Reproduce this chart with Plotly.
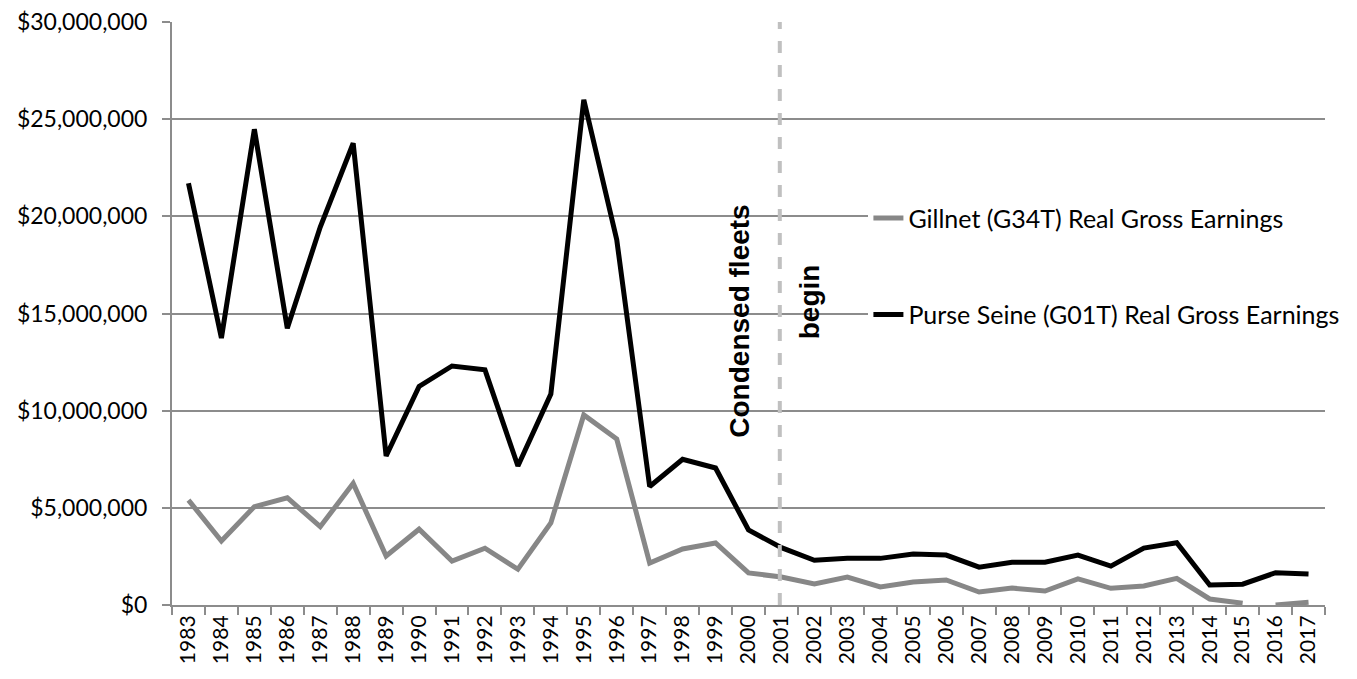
import plotly.graph_objects as go

years = [str(y) for y in range(1983, 2018)]

purse_seine = [21.7, 13.74, 24.48, 14.24, 19.45, 23.76, 7.67, 11.25, 12.3, 12.1,
               7.15, 10.86, 26.0, 18.8, 6.1, 7.5, 7.05, 3.86, 2.95, 2.3,
               2.4, 2.4, 2.62, 2.57, 1.95, 2.2, 2.2, 2.57, 2.0, 2.93,
               3.2, 1.03, 1.07, 1.66, 1.6]
purse_seine = [v * 1e6 for v in purse_seine]

gillnet = [5.4, 3.29, 5.06, 5.52, 4.03, 6.26, 2.52, 3.9, 2.26, 2.92,
           1.84, 4.22, 9.78, 8.54, 2.16, 2.88, 3.19, 1.65, 1.44, 1.08,
           1.44, 0.93, 1.18, 1.29, 0.67, 0.87, 0.72, 1.34, 0.86, 0.98,
           1.37, 0.31, 0.09, 0.0, 0.14]
gillnet = [v * 1e6 for v in gillnet]

gap_after = "2015"  # gillnet line is broken between 2015 and 2016
split = years.index(gap_after) + 1

marker_year = "2001"  # condensed fleets begin
mi = years.index(marker_year)

y_ticks = [0, 5e6, 10e6, 15e6, 20e6, 25e6, 30e6]
y_labels = ["$0", "$5,000,000", "$10,000,000", "$15,000,000",
            "$20,000,000", "$25,000,000", "$30,000,000"]

GRAY = "#878787"
AXIS = "#8c8c8c"
FONT = "Lato"

fig = go.Figure()
fig.add_trace(go.Scatter(
    x=years[:split], y=gillnet[:split], mode="lines",
    name="Gillnet (G34T) Real Gross Earnings",
    line=dict(color=GRAY, width=5), legendgroup="g1"))
fig.add_trace(go.Scatter(
    x=years[split:], y=gillnet[split:], mode="lines",
    name="Gillnet (G34T) Real Gross Earnings", showlegend=False,
    line=dict(color=GRAY, width=5), legendgroup="g1"))
fig.add_trace(go.Scatter(
    x=years, y=purse_seine, mode="lines",
    name="Purse Seine (G01T) Real Gross Earnings",
    line=dict(color="#000000", width=5), legendgroup="g2"))

fig.add_shape(type="line", x0=mi - 0.05, x1=mi - 0.05, y0=0, y1=1,
              xref="x", yref="y domain",
              line=dict(color="#c0c0c0", width=4, dash="dash"))

fig.add_annotation(text="<b>Condensed fleets</b>", x=mi, y=14.6e6,
                   xref="x", yref="y", xshift=-42, textangle=-90,
                   showarrow=False,
                   font=dict(family="Liberation Sans", size=28, color="#000000"))
fig.add_annotation(text="<b>begin</b>", x=mi, y=15.6e6,
                   xref="x", yref="y", xshift=28, textangle=-90,
                   showarrow=False,
                   font=dict(family="Liberation Sans", size=28, color="#000000"))

fig.update_layout(
    width=1357, height=679,
    margin=dict(l=164, r=40, t=14, b=82),
    plot_bgcolor="white", paper_bgcolor="white",
    font=dict(family=FONT, size=23, color="#000000"),
    showlegend=True,
    legend=dict(x=0.604, y=0.703, xanchor="left", yanchor="top",
                bgcolor="white", tracegroupgap=61,
                font=dict(family=FONT, size=25, color="#000000")),
)
fig.update_xaxes(
    type="category", range=[-0.5, len(years) - 0.5],
    tickangle=-90, tickson="boundaries", automargin=False,
    ticks="outside", ticklen=8, tickcolor=AXIS, tickwidth=2,
    showline=True, linecolor=AXIS, linewidth=2,
    showgrid=False, tickfont=dict(family=FONT, size=21),
)
fig.update_yaxes(
    range=[0, 30e6], tickvals=y_ticks, ticktext=y_labels, automargin=False,
    ticks="outside", ticklen=8, tickcolor=AXIS, tickwidth=2,
    showline=True, linecolor=AXIS, linewidth=2,
    showgrid=True, gridcolor=AXIS, gridwidth=1.5,
    zeroline=False, ticklabelstandoff=10, ticklabeloverflow="allow",
    tickfont=dict(family=FONT, size=23),
)

fig.write_html("out.html")
